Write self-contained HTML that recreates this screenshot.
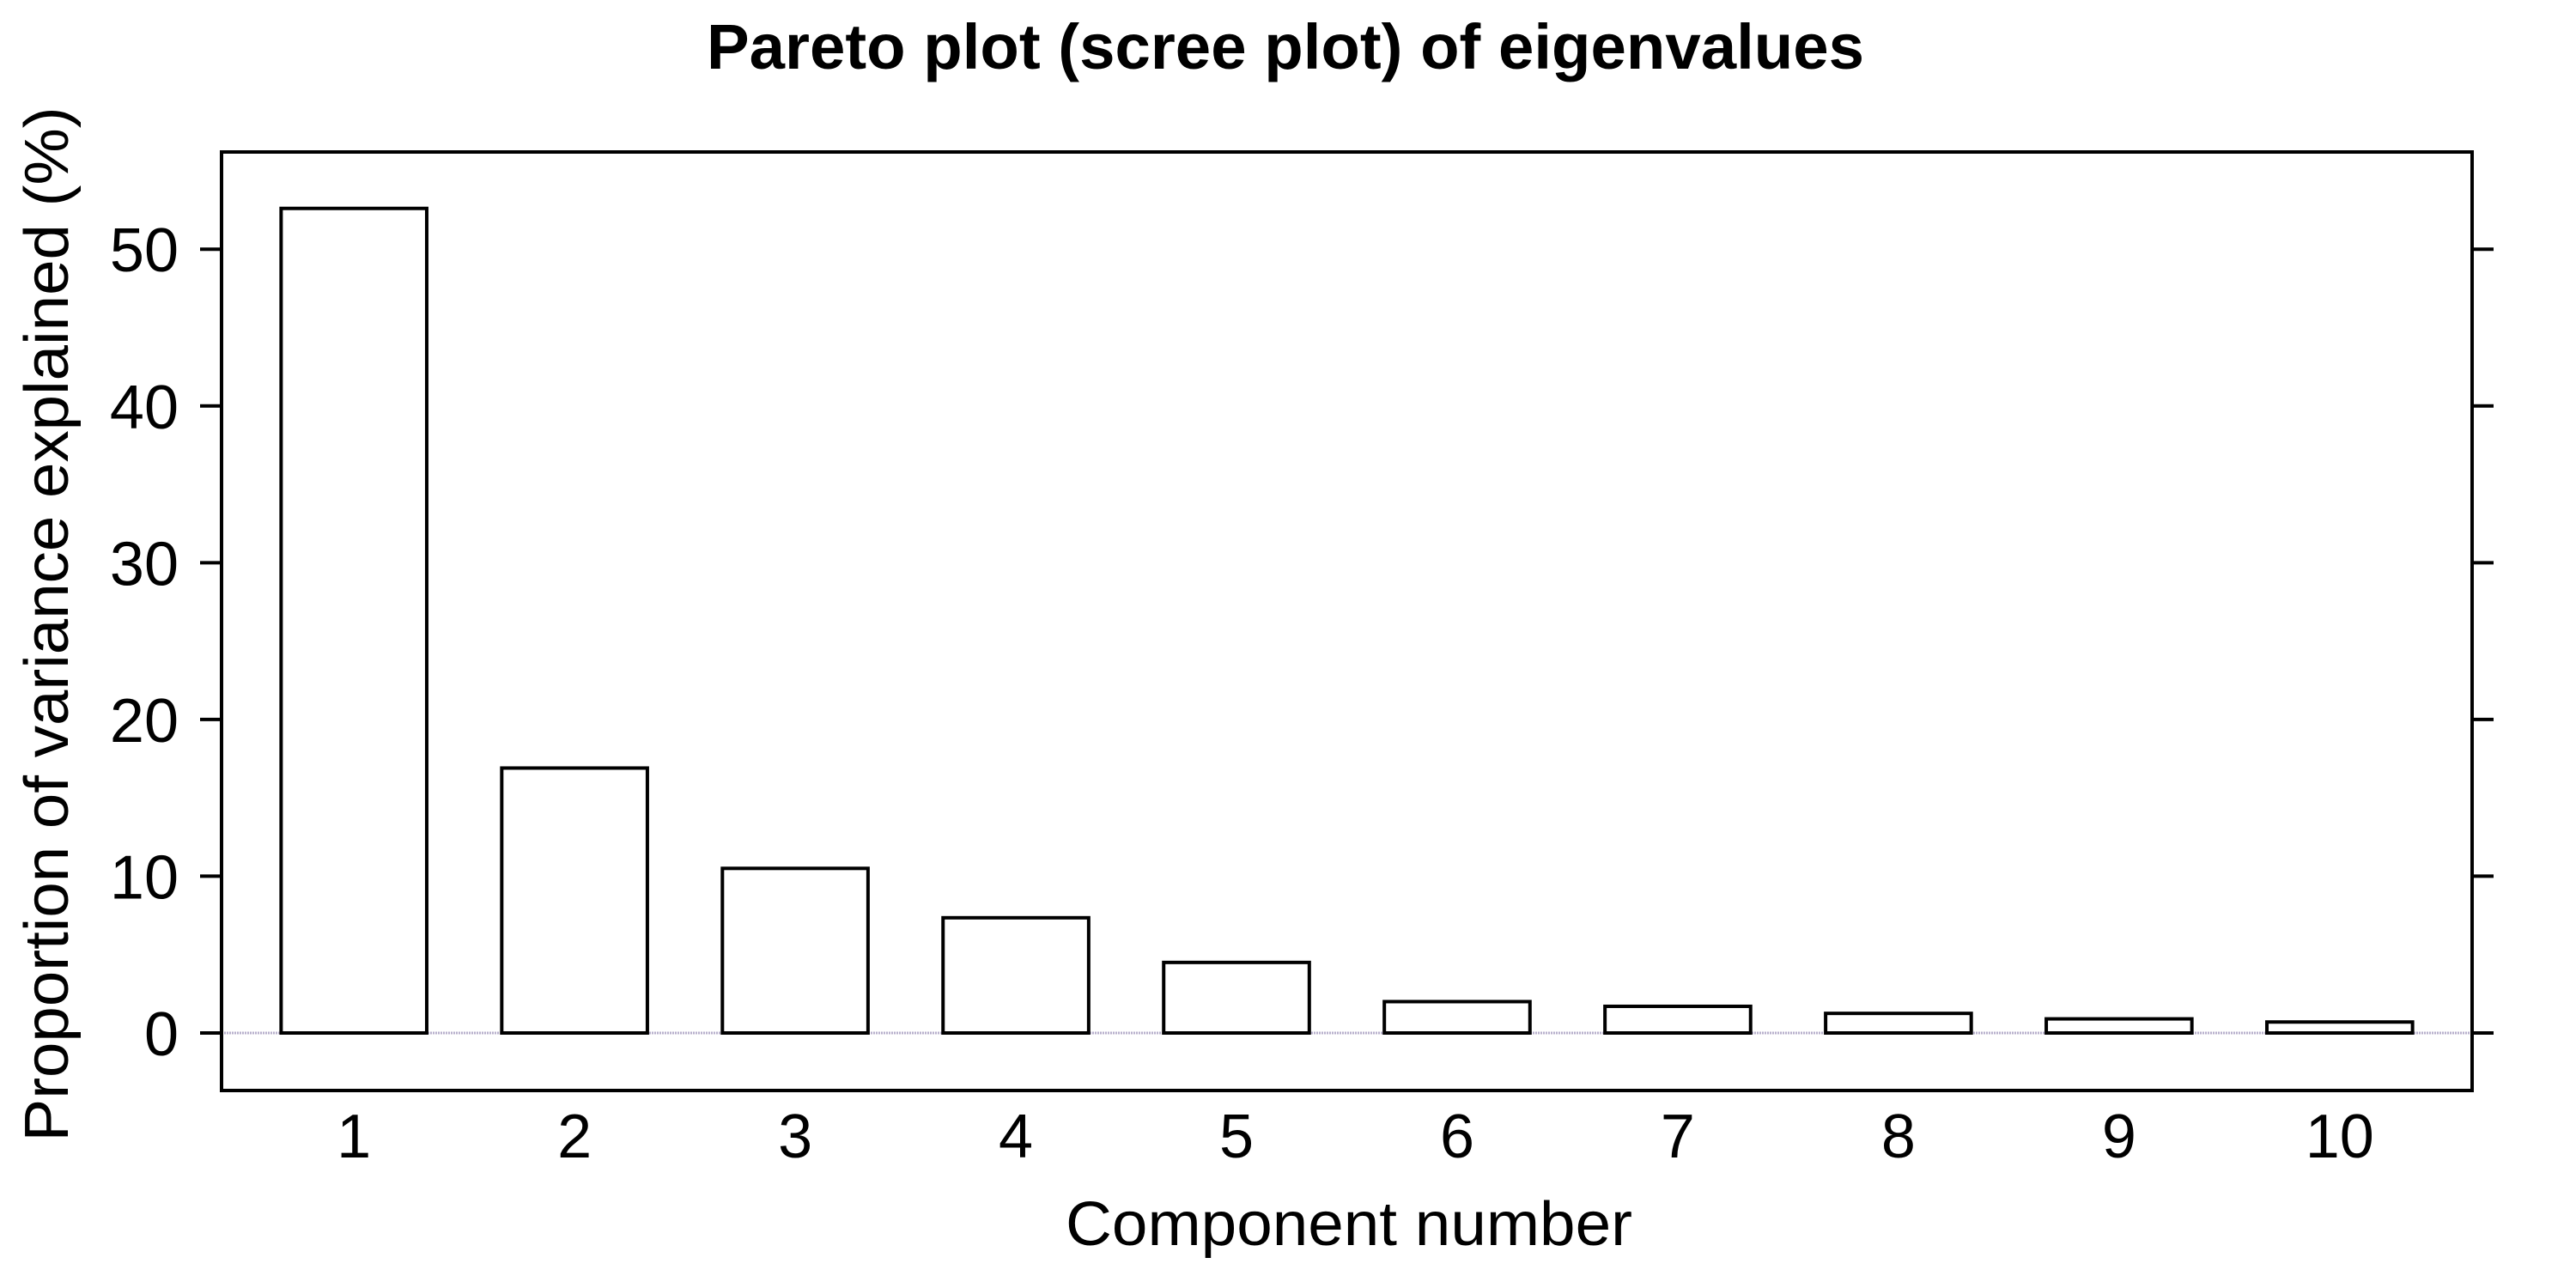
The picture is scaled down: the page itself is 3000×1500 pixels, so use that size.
<!DOCTYPE html>
<html><head><meta charset="utf-8"><style>
html,body{margin:0;padding:0;background:#fff;}
svg{display:block;font-family:"Liberation Sans",sans-serif;}
</style></head>
<body>
<svg id="chart" width="3000" height="1500" viewBox="0 0 3000 1500" xmlns="http://www.w3.org/2000/svg">
<rect x="0" y="0" width="3000" height="1500" fill="#fff"/>
<text x="1497" y="80" text-anchor="middle" font-weight="bold" font-size="74" textLength="1348" lengthAdjust="spacingAndGlyphs">Pareto plot (scree plot) of eigenvalues</text>
<text x="1571" y="1450" text-anchor="middle" font-size="72" textLength="660" lengthAdjust="spacingAndGlyphs">Component number</text>
<text transform="translate(79,727) rotate(-90)" text-anchor="middle" font-size="72" textLength="1205" lengthAdjust="spacingAndGlyphs">Proportion of variance explained (%)</text>
<g id="marks"></g>
<rect x="258" y="177" width="2621" height="1093" fill="none" stroke="#000" stroke-width="4"/>
</svg>
<script>
const categories = ["1","2","3","4","5","6","7","8","9","10"];
const values = [52.6, 16.9, 10.5, 7.35, 4.5, 2.0, 1.7, 1.25, 0.9, 0.7];
const yTicks = [0, 10, 20, 30, 40, 50];
const yTickLabels = ["0","10","20","30","40","50"];

const NS = "http://www.w3.org/2000/svg";
const g = document.getElementById("marks");
const plotL = 258, plotR = 2879, plotT = 177, plotB = 1270;
const yMin = -3.67, yMax = 56.2;
function yScale(v){ return plotB - (v - yMin) / (yMax - yMin) * (plotB - plotT); }
const step = (plotR - plotL) / (categories.length + 0.2);
function xScale(i){ return plotL + step * 0.6 + i * step; }
const barW = step * 0.66;
function mk(tag, attrs){ const e = document.createElementNS(NS, tag); for (const k in attrs) e.setAttribute(k, attrs[k]); g.appendChild(e); return e; }

// zero reference line
const zl = mk("line", {x1: plotL, x2: plotR, y1: yScale(0), y2: yScale(0), stroke: "#b8b0cc", "stroke-width": 3, "stroke-dasharray": "2 1"});



values.forEach((v, i) => {
  const cx = xScale(i);
  const r = mk("rect", {x: cx - barW/2, y: yScale(v), width: barW, height: yScale(0) - yScale(v), fill: "#fff", stroke: "#000", "stroke-width": 4});
  
  
  const t = mk("text", {x: cx, y: 1348, "text-anchor": "middle", "font-size": 72});
  t.textContent = categories[i];
  
  
});

yTicks.forEach((v, i) => {
  const y = yScale(v);
  const tl = mk("line", {x1: 233, x2: plotL, y1: y, y2: y, stroke: "#000", "stroke-width": 4});
  
  
  const tr = mk("line", {x1: plotR, x2: 2904, y1: y, y2: y, stroke: "#000", "stroke-width": 4});
  
  
  const t = mk("text", {x: 208, y: y + 26, "text-anchor": "end", "font-size": 72});
  t.textContent = yTickLabels[i];
  
  
});
</script>
</body></html>
